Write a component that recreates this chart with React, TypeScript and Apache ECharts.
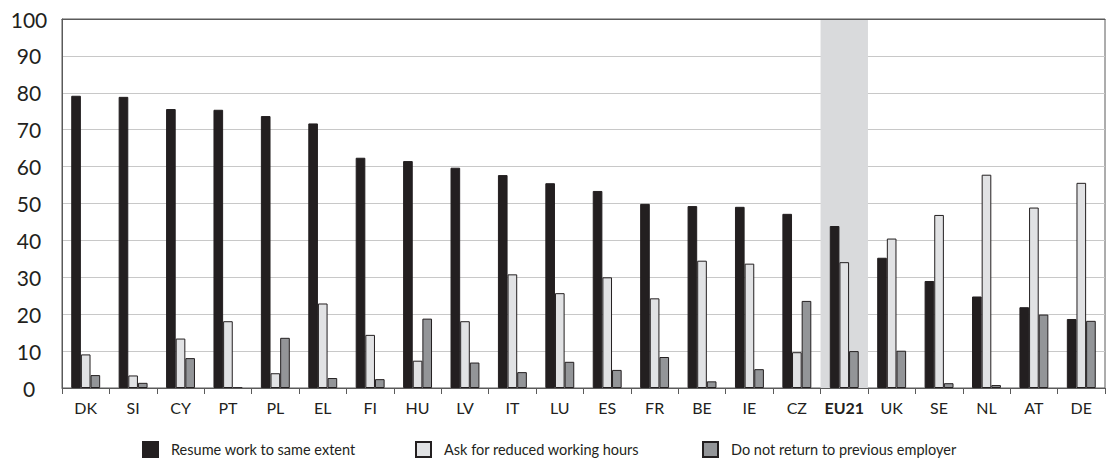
import React, { useEffect, useRef } from 'react';
import * as echarts from 'echarts';

const categories = ['DK', 'SI', 'CY', 'PT', 'PL', 'EL', 'FI', 'HU', 'LV', 'IT', 'LU', 'ES', 'FR', 'BE', 'IE', 'CZ', 'EU21', 'UK', 'SE', 'NL', 'AT', 'DE'];
const resumeSame = [79.2, 78.9, 75.6, 75.4, 73.7, 71.7, 62.4, 61.5, 59.7, 57.7, 55.5, 53.4, 49.9, 49.3, 49.1, 47.2, 43.9, 35.3, 29.0, 24.8, 21.9, 18.7];
const reducedHours = [9.1, 3.4, 13.4, 18.1, 4.0, 22.9, 14.4, 7.4, 18.1, 30.8, 25.7, 30.0, 24.3, 34.5, 33.7, 9.7, 34.1, 40.5, 46.9, 57.8, 48.9, 55.6];
const notReturn = [3.5, 1.4, 8.1, 0.1, 13.6, 2.7, 2.4, 18.8, 6.9, 4.3, 7.1, 4.9, 8.4, 1.8, 5.1, 23.6, 10.0, 10.1, 1.3, 0.8, 19.9, 18.2];
const seriesNames = ['Resume work to same extent', 'Ask for reduced working hours', 'Do not return to previous employer'];
const highlightCategory = 'EU21';
const yMin = 0;
const yMax = 100;
const yInterval = 10;

export default function App() {
  const ref = useRef<HTMLDivElement>(null);
  useEffect(() => {
    const chart = echarts.init(ref.current as HTMLDivElement, null, { renderer: 'svg' });
    const font = 'Lato';
    const ink = '#231f20';
    const axisColor = '#5a5a5a';
    const colors = ['#231f20', '#e1e2e4', '#939598'];
    const legendText = { fontFamily: font, fontSize: 14.5, color: ink, padding: [0, 0, 0, 8] };
    const legendLefts = [142, 415, 702];
    chart.setOption({
      animation: false,
      grid: { left: 62, right: 2, top: 19, bottom: 74, show: true, borderColor: axisColor, borderWidth: 1, backgroundColor: 'transparent' },
      xAxis: [
        {
          type: 'category',
          data: categories,
          z: 5,
          axisLine: { show: true, lineStyle: { color: axisColor, width: 1 } },
          axisTick: { show: true, alignWithLabel: false, length: 6, lineStyle: { color: axisColor, width: 1 } },
          axisLabel: {
            margin: 11,
            fontFamily: font,
            fontSize: 16,
            color: ink,
            interval: 0,
            formatter: (v: string) => (v === highlightCategory ? `{b|${v}}` : v),
            rich: { b: { fontFamily: font, fontSize: 16, fontWeight: 'bold', color: ink } },
          },
        },
        {
          type: 'category',
          data: categories,
          position: 'top',
          z: 5,
          axisLine: { show: true, lineStyle: { color: axisColor, width: 1 } },
          axisTick: { show: false },
          axisLabel: { show: false },
        },
      ],
      yAxis: {
        type: 'value',
        min: yMin,
        max: yMax,
        interval: yInterval,
        axisLine: { show: true, lineStyle: { color: axisColor, width: 1 } },
        axisTick: { show: false },
        splitLine: { show: true, lineStyle: { color: '#c8c8c8', width: 1 } },
        axisLabel: { align: 'center', margin: 33, fontFamily: font, fontSize: 21, color: ink },
      },
      legend: seriesNames.map((name, i) => ({
        data: [name],
        left: legendLefts[i],
        top: 441,
        padding: 0,
        icon: 'rect',
        itemWidth: 15,
        itemHeight: 15,
        textStyle: legendText,
        selectedMode: false,
      })),
      series: [
        {
          type: 'bar',
          name: 'highlight',
          xAxisIndex: 1,
          data: categories.map((c) => (c === highlightCategory ? yMax : null)),
          barWidth: '100%',
          itemStyle: { color: '#d9dadc' },
          silent: true,
          z: 1,
        },
        ...[resumeSame, reducedHours, notReturn].map((d, i) => ({
          type: 'bar',
          name: seriesNames[i],
          xAxisIndex: 0,
          data: d,
          barGap: '0%',
          barCategoryGap: '39%',
          itemStyle: { color: colors[i], borderColor: ink, borderWidth: 1 },
          z: 2,
        })),
      ],
    });
    return () => chart.dispose();
  }, []);
  return <div ref={ref} style={{ position: 'absolute', left: 0, top: 0, width: 1107, height: 462 }} />;
}
